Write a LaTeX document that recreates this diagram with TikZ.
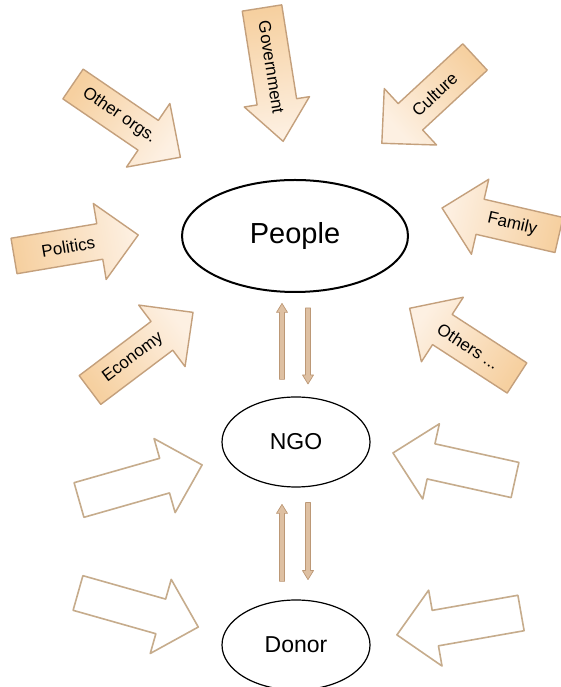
\documentclass[tikz,border=0pt]{standalone}
\usepackage{fontspec}
\setmainfont{Liberation Sans}
\usetikzlibrary{shapes.geometric,calc}
\definecolor{arrTail}{RGB}{246,208,160}
\definecolor{arrTip}{RGB}{253,240,226}
\definecolor{arrBord}{RGB}{196,160,124}
\definecolor{wBord}{RGB}{198,172,140}
\definecolor{smFill}{RGB}{222,192,162}
\definecolor{smBord}{RGB}{188,152,118}
\def\bkW{37}\def\bkH{77}\def\bkL{38}
\newcommand\blockarrow[5]{%
  \pgfmathsetmacro\bkang{#3-90}%
  \begin{scope}[shift={#2},rotate=#3]
    \path[#1] (0,-\bkW/2) -- ({#4-\bkL},-\bkW/2) -- ({#4-\bkL},-\bkH/2) -- (#4,0)
      -- ({#4-\bkL},\bkH/2) -- ({#4-\bkL},\bkW/2) -- (0,\bkW/2) -- cycle;
    #5
  \end{scope}}
\begin{document}
\begin{tikzpicture}[x=1pt,y=1pt,
  orangearr/.style={draw=arrBord, line width=1.4pt, line join=round, shade, shading=axis, bottom color=arrTail, top color=arrTip, shading angle=\bkang},
  whitearr/.style={draw=wBord, line width=1.6pt, line join=round, fill=white},
  smallarr/.style={draw=smBord, line width=0.7pt, line join=round, fill=smFill},
  lbl/.style={transform shape, font=\fontsize{17}{19}\selectfont, inner sep=0pt},
  oval/.style={ellipse, draw, inner sep=0pt}]
\useasboundingbox (0,0) rectangle (560,687);
\fill[white] (0,0) rectangle (560,687);
% ellipses
\node[oval, line width=2pt, minimum width=226pt, minimum height=112pt, font=\fontsize{29}{32}\selectfont] (people) at (295,451) {People};
\node[oval, line width=1.2pt, minimum width=148pt, minimum height=90pt, font=\fontsize{23}{26}\selectfont] (ngo) at (296,245) {NGO};
\node[oval, line width=1.2pt, minimum width=148pt, minimum height=90pt, font=\fontsize{23}{26}\selectfont] (donor) at (296,42) {Donor};
% orange influence arrows
\def\bkW{40}\def\bkH{66}\def\bkL{40}
\blockarrow{orangearr}{(262,679)}{-81}{135}{\node[lbl] (gov) at (60,0) {Government};}
\def\bkW{36}\def\bkH{77}\def\bkL{39}
\blockarrow{orangearr}{(73,603)}{-34.3}{130}{\node[lbl] (orgs) at (56,0) {Other orgs.};}
\blockarrow{orangearr}{(475,630)}{222.8}{127}{\node[lbl,rotate=180] (culture) at (55,0) {Culture};}
\blockarrow{orangearr}{(14,431)}{9.6}{126}{\node[lbl] (politics) at (55,0) {Politics};}
\blockarrow{orangearr}{(559,452)}{167}{120}{\node[lbl,rotate=180] (family) at (48,0) {Family};}
\blockarrow{orangearr}{(90,297)}{37}{129}{\node[lbl] (economy) at (54,0) {Economy};}
\blockarrow{orangearr}{(517,309)}{147}{128}{\node[lbl,rotate=180] (others) at (58,0) {Others ...};}
% white arrows
\blockarrow{whitearr}{(79,187)}{15.9}{128}{}
\blockarrow{whitearr}{(515,207)}{167.5}{125}{}
\blockarrow{whitearr}{(78,94)}{-15.8}{125}{}
\blockarrow{whitearr}{(521,74)}{190}{126}{}
% small two-way arrows
\def\bkW{5}\def\bkH{11}\def\bkL{9}
\blockarrow{smallarr}{($(ngo.north)+(-14,17)$)}{90}{76}{}
\blockarrow{smallarr}{($(people.south)+(13,-15)$)}{-90}{76}{}
\blockarrow{smallarr}{($(donor.north)+(-14,18)$)}{90}{77}{}
\blockarrow{smallarr}{($(ngo.south)+(12,-15)$)}{-90}{77}{}
\end{tikzpicture}
\end{document}
